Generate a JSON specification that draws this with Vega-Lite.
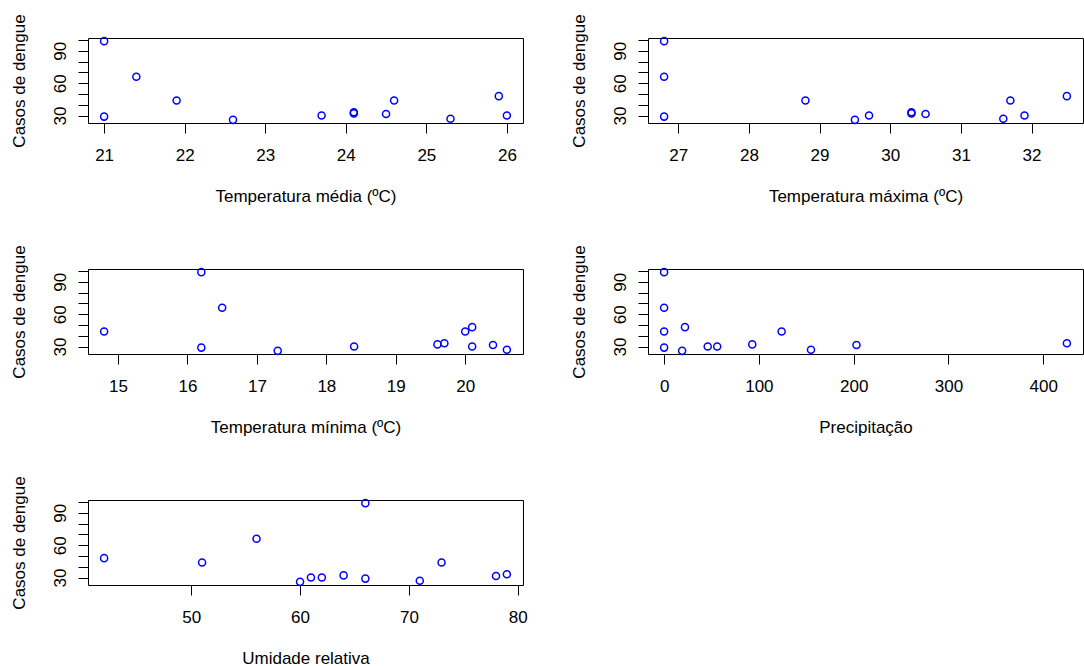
{
  "$schema": "https://vega.github.io/schema/vega-lite/v6.json",
  "background": "white",
  "padding": {"left": 9, "top": 13, "right": 0, "bottom": 0},
  "autosize": {"type": "pad"},
  "bounds": "flush",
  "columns": 2,
  "spacing": {"row": 146, "column": 125},
  "data": {
    "values": [
      {"casos": 99, "tmed": 21.0, "tmax": 26.8, "tmin": 16.2, "precip": 0, "umid": 66},
      {"casos": 29, "tmed": 21.0, "tmax": 26.8, "tmin": 16.2, "precip": 0, "umid": 66},
      {"casos": 66, "tmed": 21.4, "tmax": 26.8, "tmin": 16.5, "precip": 0, "umid": 56},
      {"casos": 44, "tmed": 21.9, "tmax": 28.8, "tmin": 14.8, "precip": 0, "umid": 51},
      {"casos": 44, "tmed": 24.6, "tmax": 31.7, "tmin": 20.0, "precip": 124, "umid": 73},
      {"casos": 26, "tmed": 22.6, "tmax": 29.5, "tmin": 17.3, "precip": 19, "umid": 60},
      {"casos": 30, "tmed": 23.7, "tmax": 29.7, "tmin": 18.4, "precip": 46, "umid": 61},
      {"casos": 30, "tmed": 26.0, "tmax": 31.9, "tmin": 20.1, "precip": 56, "umid": 62},
      {"casos": 33, "tmed": 24.1, "tmax": 30.3, "tmin": 19.7, "precip": 425, "umid": 79},
      {"casos": 32, "tmed": 24.1, "tmax": 30.3, "tmin": 19.6, "precip": 93, "umid": 64},
      {"casos": 31.5, "tmed": 24.5, "tmax": 30.5, "tmin": 20.4, "precip": 203, "umid": 78},
      {"casos": 27, "tmed": 25.3, "tmax": 31.6, "tmin": 20.6, "precip": 155, "umid": 71},
      {"casos": 48, "tmed": 25.9, "tmax": 32.5, "tmin": 20.1, "precip": 22, "umid": 42}
    ]
  },
  "concat": [
    {
      "width": 435, "height": 85,
      "mark": {"type": "point", "shape": "circle", "filled": false, "color": "#0000ff", "size": 50, "strokeWidth": 1.5, "opacity": 1},
      "encoding": {
        "x": {"field": "tmed", "type": "quantitative", "scale": {"domain": [20.8, 26.2], "nice": false, "zero": false}, "axis": {"values": [21, 22, 23, 24, 25, 26], "title": "Temperatura média (ºC)"}},
        "y": {"field": "casos", "type": "quantitative", "scale": {"domain": [23.08, 101.92], "nice": false, "zero": false}, "axis": {"values": [30, 40, 50, 60, 70, 80, 90, 100], "labelExpr": "(datum.value == 30 || datum.value == 60 || datum.value == 90) ? datum.label : ''", "title": "Casos de dengue"}}
      }
    },
    {
      "width": 435, "height": 85,
      "mark": {"type": "point", "shape": "circle", "filled": false, "color": "#0000ff", "size": 50, "strokeWidth": 1.5, "opacity": 1},
      "encoding": {
        "x": {"field": "tmax", "type": "quantitative", "scale": {"domain": [26.572, 32.728], "nice": false, "zero": false}, "axis": {"values": [27, 28, 29, 30, 31, 32], "title": "Temperatura máxima (ºC)"}},
        "y": {"field": "casos", "type": "quantitative", "scale": {"domain": [23.08, 101.92], "nice": false, "zero": false}, "axis": {"values": [30, 40, 50, 60, 70, 80, 90, 100], "labelExpr": "(datum.value == 30 || datum.value == 60 || datum.value == 90) ? datum.label : ''", "title": "Casos de dengue"}}
      }
    },
    {
      "width": 435, "height": 85,
      "mark": {"type": "point", "shape": "circle", "filled": false, "color": "#0000ff", "size": 50, "strokeWidth": 1.5, "opacity": 1},
      "encoding": {
        "x": {"field": "tmin", "type": "quantitative", "scale": {"domain": [14.568, 20.832], "nice": false, "zero": false}, "axis": {"values": [15, 16, 17, 18, 19, 20], "title": "Temperatura mínima (ºC)"}},
        "y": {"field": "casos", "type": "quantitative", "scale": {"domain": [23.08, 101.92], "nice": false, "zero": false}, "axis": {"values": [30, 40, 50, 60, 70, 80, 90, 100], "labelExpr": "(datum.value == 30 || datum.value == 60 || datum.value == 90) ? datum.label : ''", "title": "Casos de dengue"}}
      }
    },
    {
      "width": 435, "height": 85,
      "mark": {"type": "point", "shape": "circle", "filled": false, "color": "#0000ff", "size": 50, "strokeWidth": 1.5, "opacity": 1},
      "encoding": {
        "x": {"field": "precip", "type": "quantitative", "scale": {"domain": [-17, 442], "nice": false, "zero": false}, "axis": {"values": [0, 100, 200, 300, 400], "title": "Precipitação"}},
        "y": {"field": "casos", "type": "quantitative", "scale": {"domain": [23.08, 101.92], "nice": false, "zero": false}, "axis": {"values": [30, 40, 50, 60, 70, 80, 90, 100], "labelExpr": "(datum.value == 30 || datum.value == 60 || datum.value == 90) ? datum.label : ''", "title": "Casos de dengue"}}
      }
    },
    {
      "width": 435, "height": 85,
      "mark": {"type": "point", "shape": "circle", "filled": false, "color": "#0000ff", "size": 50, "strokeWidth": 1.5, "opacity": 1},
      "encoding": {
        "x": {"field": "umid", "type": "quantitative", "scale": {"domain": [40.52, 80.48], "nice": false, "zero": false}, "axis": {"values": [50, 60, 70, 80], "title": "Umidade relativa"}},
        "y": {"field": "casos", "type": "quantitative", "scale": {"domain": [23.08, 101.92], "nice": false, "zero": false}, "axis": {"values": [30, 40, 50, 60, 70, 80, 90, 100], "labelExpr": "(datum.value == 30 || datum.value == 60 || datum.value == 90) ? datum.label : ''", "title": "Casos de dengue"}}
      }
    }
  ],
  "config": {
    "view": {"stroke": "black", "strokeWidth": 1},
    "axis": {
      "domain": false, "grid": false,
      "tickSize": 10, "tickColor": "black", "tickWidth": 1,
      "labelFont": "Liberation Sans", "labelFontSize": 17, "labelColor": "black",
      "titleFont": "Liberation Sans", "titleFontSize": 17, "titleFontWeight": "normal", "titleColor": "black",
      "labelFlush": false, "labelOverlap": false
    },
    "axisX": {"labelPadding": 14, "titlePadding": 25},
    "axisY": {"labelAngle": 270, "labelAlign": "center", "labelBaseline": "alphabetic", "labelPadding": 13, "titlePadding": 23}
  }
}
